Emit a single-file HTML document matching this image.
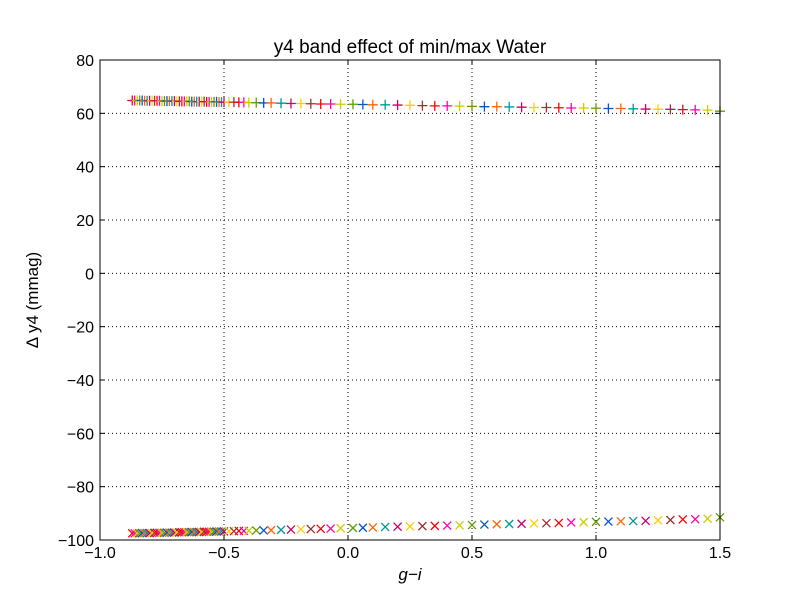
<!DOCTYPE html>
<html><head><meta charset="utf-8"><style>
body{margin:0;background:#fff;}
svg text{font-family:"Liberation Sans",sans-serif;}
</style></head><body>
<svg id="chart" width="800" height="600" xmlns="http://www.w3.org/2000/svg">
<rect width="800" height="600" fill="#fff"/>
<g id="grid"></g>
<g id="marks"></g>
<rect x="100" y="60" width="620" height="480" fill="none" stroke="#000" stroke-width="1"/>
<g id="axes"></g>
<text x="410" y="53" font-size="19" text-anchor="middle">y4 band effect of min/max Water</text>
<text x="410" y="580" font-size="17" font-style="italic" font-family="Liberation Serif,serif" text-anchor="middle">g−i</text>
<text transform="translate(38,300) rotate(-90)" font-size="17" text-anchor="middle">Δ y4 (mmag)</text>
</svg>
<script>
const xs=[-0.87,-0.86,-0.85,-0.84,-0.83,-0.82,-0.81,-0.80,-0.79,-0.78,-0.77,-0.76,-0.75,-0.74,-0.73,-0.72,-0.71,-0.70,-0.69,-0.68,-0.67,-0.66,-0.65,-0.64,-0.63,-0.62,-0.61,-0.60,-0.59,-0.58,-0.57,-0.56,-0.55,-0.54,-0.53,-0.52,-0.51,-0.50,-0.48,-0.46,-0.44,-0.42,-0.40,-0.37,-0.34,-0.31,-0.27,-0.23,-0.19,-0.15,-0.11,-0.07,-0.03,0.02,0.06,0.10,0.15,0.20,0.25,0.30,0.35,0.40,0.45,0.50,0.55,0.60,0.65,0.70,0.75,0.80,0.85,0.90,0.95,1.00,1.05,1.10,1.15,1.20,1.25,1.30,1.35,1.40,1.45,1.50];
const maxWater=[64.8,64.8,64.8,64.8,64.8,64.7,64.7,64.7,64.7,64.7,64.7,64.7,64.6,64.6,64.6,64.6,64.6,64.6,64.5,64.5,64.5,64.5,64.5,64.5,64.4,64.4,64.4,64.4,64.4,64.4,64.3,64.3,64.3,64.3,64.3,64.2,64.2,64.2,64.2,64.2,64.1,64.1,64.0,64.0,63.9,63.9,63.8,63.7,63.7,63.6,63.5,63.5,63.4,63.4,63.3,63.2,63.2,63.1,63.0,62.9,62.8,62.8,62.7,62.6,62.5,62.5,62.4,62.3,62.2,62.2,62.1,62.0,62.0,61.9,61.8,61.8,61.7,61.6,61.5,61.5,61.4,61.3,61.2,60.8];
const minWater=[-97.5,-97.5,-97.5,-97.5,-97.4,-97.4,-97.4,-97.4,-97.4,-97.3,-97.3,-97.3,-97.3,-97.3,-97.2,-97.2,-97.2,-97.2,-97.2,-97.1,-97.1,-97.1,-97.1,-97.1,-97.0,-97.0,-97.0,-97.0,-97.0,-96.9,-96.9,-96.9,-96.9,-96.9,-96.8,-96.8,-96.8,-96.8,-96.7,-96.7,-96.6,-96.6,-96.5,-96.4,-96.4,-96.3,-96.2,-96.1,-96.0,-95.9,-95.8,-95.7,-95.6,-95.5,-95.4,-95.3,-95.1,-95.0,-94.9,-94.8,-94.7,-94.6,-94.5,-94.4,-94.2,-94.1,-94.0,-93.9,-93.8,-93.7,-93.6,-93.4,-93.3,-93.2,-93.1,-93.0,-92.9,-92.8,-92.6,-92.5,-92.3,-92.2,-92.0,-91.5];
const xTicks=[-1.0,-0.5,0.0,0.5,1.0,1.5];
const yTicks=[80,60,40,20,0,-20,-40,-60,-80,-100];
const colors=['#ff0000','#ff00aa','#cccc00','#669900','#0055cc','#ff6600','#009999','#cc0066','#ffcc00','#993333'];
const NS='http://www.w3.org/2000/svg';
const X=v=>100+(v+1)*248, Y=v=>60+(80-v)*480/180;
function mk(t,a,p){const e=document.createElementNS(NS,t);for(const k in a)e.setAttribute(k,a[k]);p.appendChild(e);return e;}
const grid=document.getElementById('grid'),axes=document.getElementById('axes'),marks=document.getElementById('marks');
xTicks.forEach(t=>{const x=X(t);
 if(t>-1&&t<1.5){const g=mk('line',{x1:x,x2:x,y1:60,y2:540,stroke:'#000','stroke-dasharray':'1,3','stroke-width':1},grid);}
 mk('line',{x1:x,x2:x,y1:540,y2:535,stroke:'#000'},axes);mk('line',{x1:x,x2:x,y1:60,y2:65,stroke:'#000'},axes);
 const l=mk('text',{x:x,y:558,'font-size':16,'text-anchor':'middle'},axes);l.textContent=t.toFixed(1).replace('-','−');
 });
yTicks.forEach(t=>{const y=Y(t);
 if(t<80&&t>-100){const g=mk('line',{x1:100,x2:720,y1:y,y2:y,stroke:'#000','stroke-dasharray':'1,3','stroke-width':1},grid);}
 mk('line',{x1:100,x2:105,y1:y,y2:y,stroke:'#000'},axes);mk('line',{x1:720,x2:715,y1:y,y2:y,stroke:'#000'},axes);
 const l=mk('text',{x:94,y:y+6,'font-size':16,'text-anchor':'end'},axes);l.textContent=String(t).replace('-','−');
 });
xs.forEach((v,i)=>{const c=colors[i%colors.length];const x=X(v);
 let y=Y(maxWater[i]);
 const p=mk('path',{d:`M${x-5},${y}h10M${x},${y-5}v10`,stroke:c,'stroke-width':1.3,fill:'none'},marks);
 
 
 y=Y(minWater[i]);
 const q=mk('path',{d:`M${x-4},${y-4}l8,8M${x-4},${y+4}l8,-8`,stroke:c,'stroke-width':1.3,fill:'none'},marks);
 
 
});
</script>
</body></html>
